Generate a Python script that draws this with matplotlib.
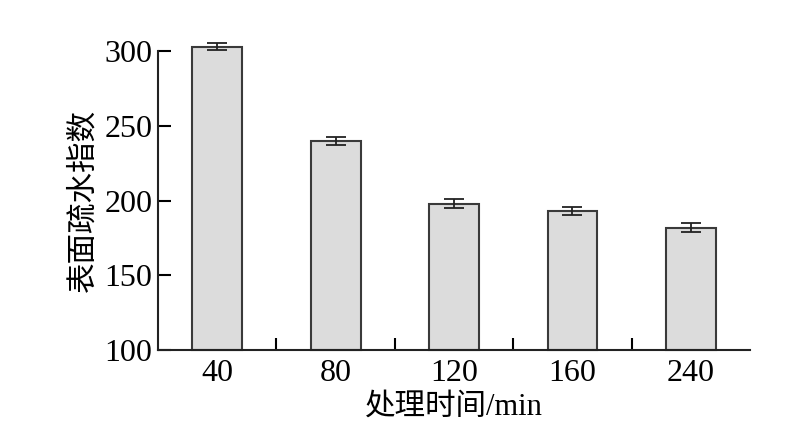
import numpy as np
import matplotlib.pyplot as plt

plt.rcParams['font.family'] = ['Liberation Serif', 'Noto Sans CJK SC']

times = ['40', '80', '120', '160', '240']
index_vals = [303, 240, 198, 193, 182]
index_err = [2.2, 2.7, 3.0, 2.6, 3.0]
base = 100

fig = plt.figure(figsize=(7.98, 4.25), dpi=100)
ax = fig.add_axes([0.198, 0.176, 0.742, 0.704])

x = np.arange(len(times))
heights = [v - base for v in index_vals]
bars = ax.bar(x, heights, bottom=base, width=0.42, color='#dcdcdc', edgecolor='#3a3a3a',
              linewidth=1.5, zorder=2)
for b in bars:
    b.set_clip_on(False)
eb = ax.errorbar(x, index_vals, yerr=index_err, fmt='none', ecolor='#222222',
                 elinewidth=1.3, capsize=7.5, capthick=1.3, zorder=3)
for art in eb.lines[1] + eb.lines[2]:
    art.set_clip_on(False)

ax.set_xlim(-0.5, len(times) - 0.5)
ax.set_ylim(100, 300)
ax.set_yticks([100, 150, 200, 250, 300])
ax.set_xticks(x)
ax.set_xticklabels(times)
ax.set_xticks(x[:-1] + 0.5, minor=True)

for s in ['top', 'right']:
    ax.spines[s].set_visible(False)
for s in ['left', 'bottom']:
    ax.spines[s].set_linewidth(1.5)
    ax.spines[s].set_color('#222222')

ax.tick_params(axis='y', direction='in', length=9, width=1.5, labelsize=23, pad=4)
ax.tick_params(axis='x', which='major', length=0, labelsize=23, pad=6)
ax.tick_params(axis='x', which='minor', direction='in', length=9, width=1.5)

ax.set_xlabel('处理时间/min', fontsize=22, labelpad=4)
ax.set_ylabel('表面疏水指数', fontsize=22, labelpad=4)

fig.savefig('out.png', dpi=100)
